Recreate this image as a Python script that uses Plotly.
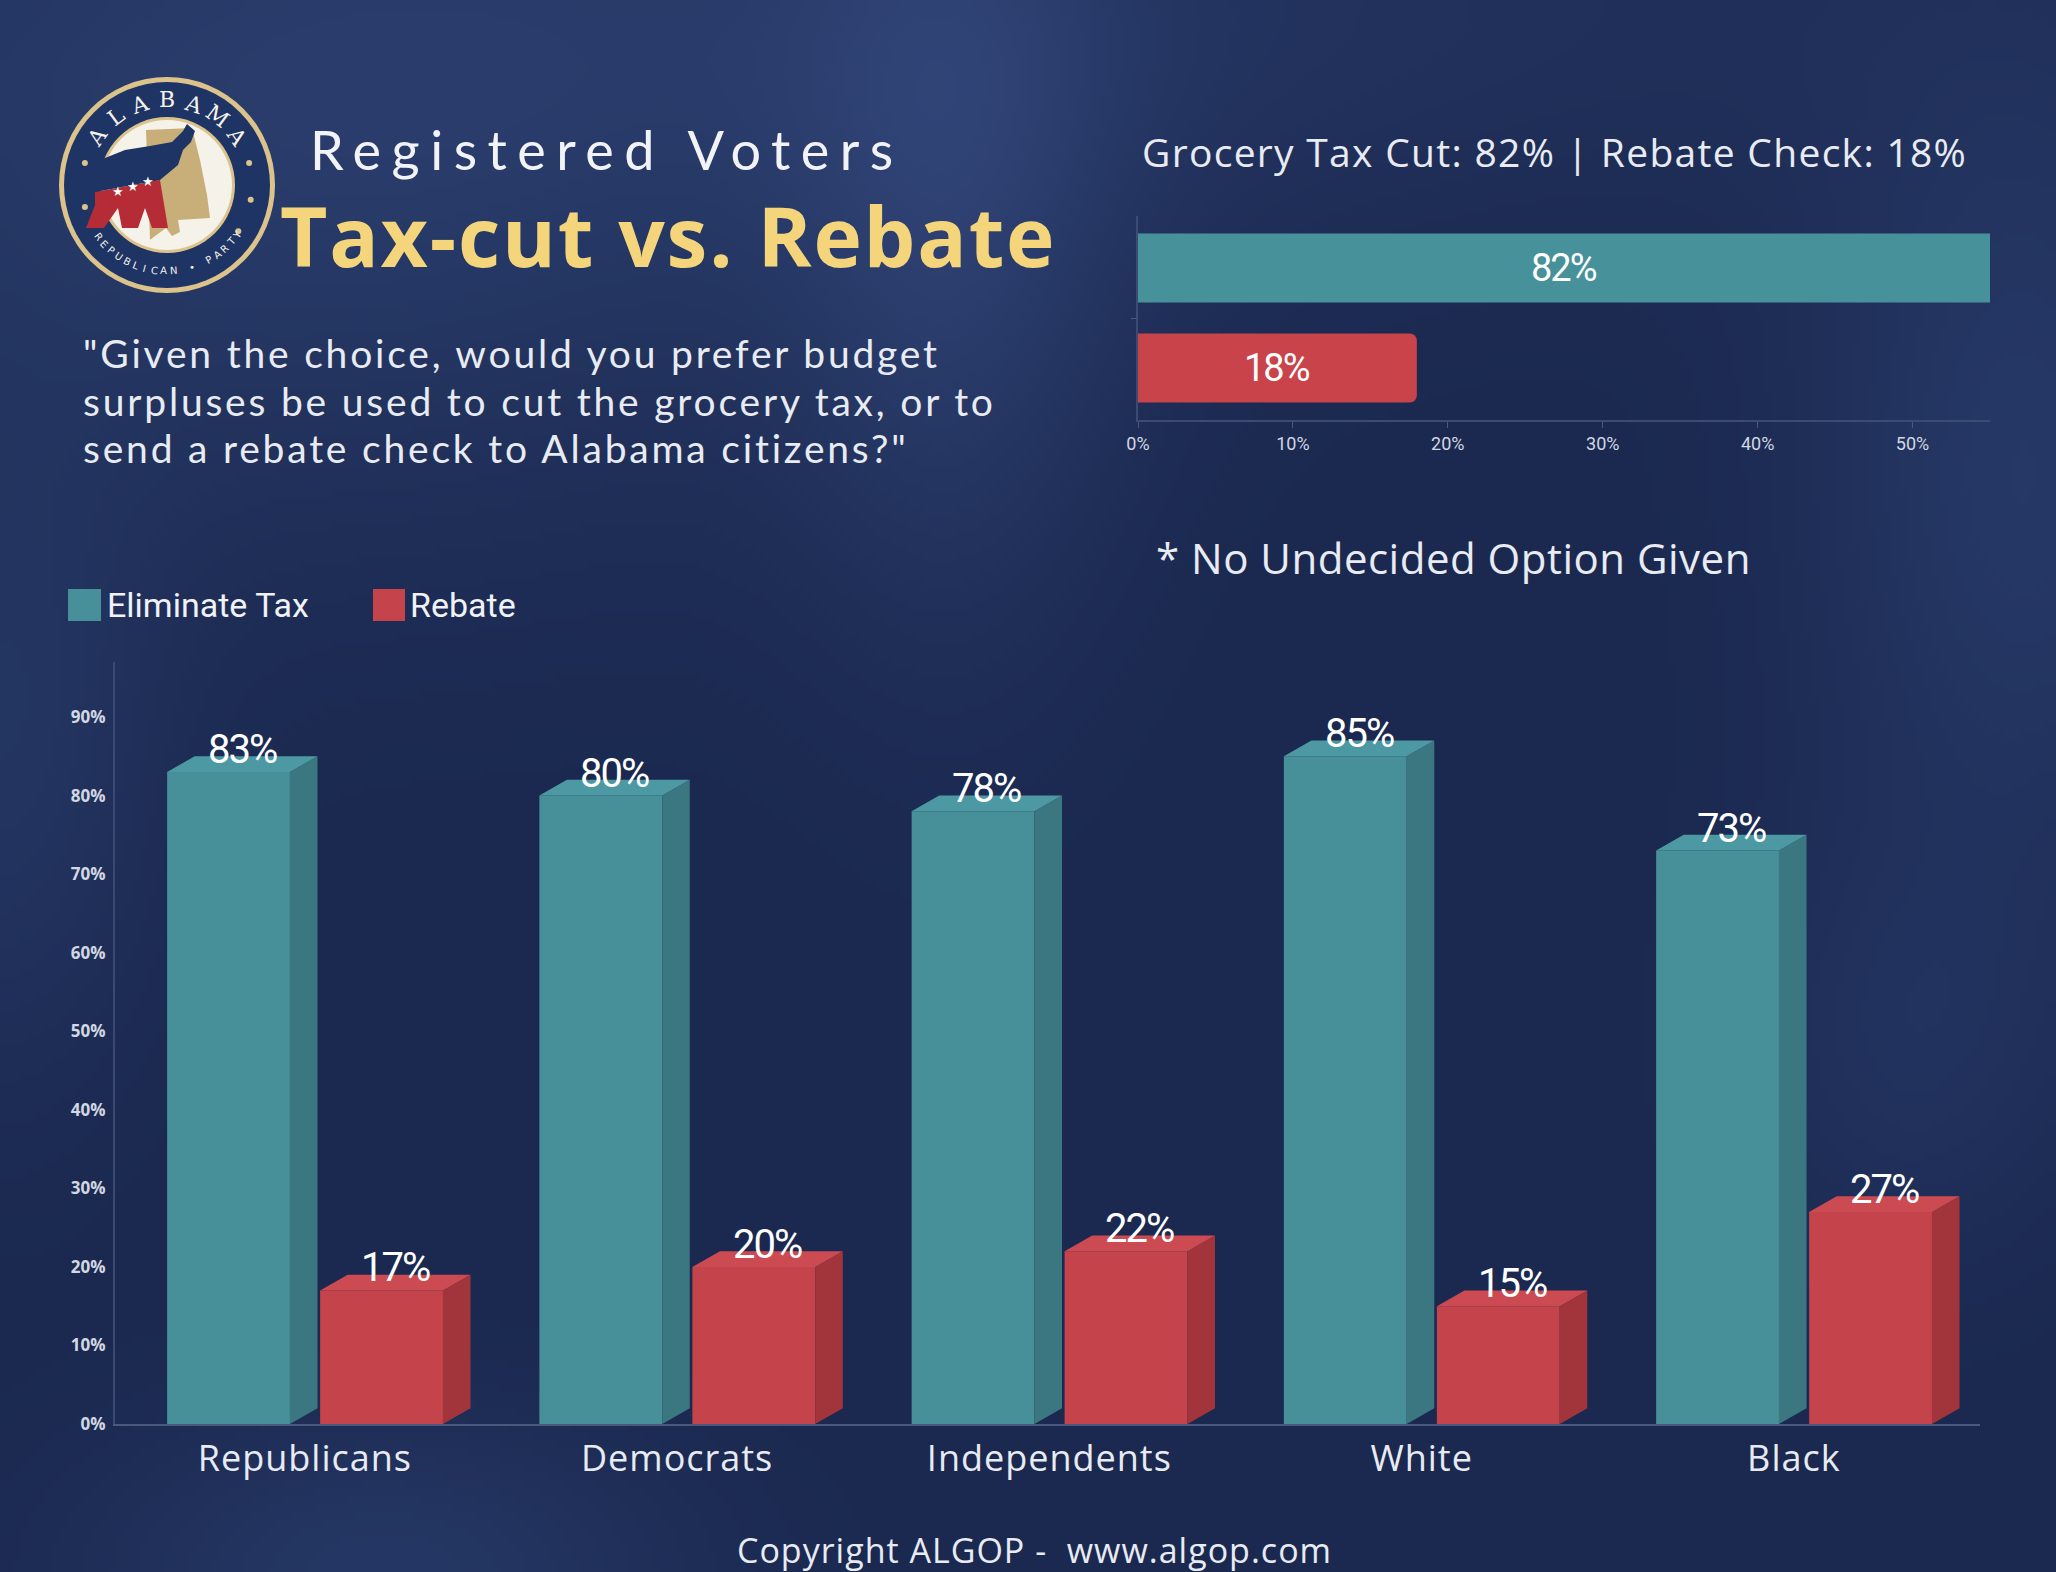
import base64
import math
import struct
import zlib

import numpy as np
import plotly.graph_objects as go

# ---------------- data ----------------
categories = ["Republicans", "Democrats", "Independents", "White", "Black"]
eliminate_tax = [83, 80, 78, 85, 73]
rebate = [17, 20, 22, 15, 27]
series_names = ["Eliminate Tax", "Rebate"]

overall_labels = ["Grocery Tax Cut", "Rebate Check"]
overall_values = [82, 18]

main_y_ticks = [0, 10, 20, 30, 40, 50, 60, 70, 80, 90]
top_x_ticks = [0, 10, 20, 30, 40, 50]

question_lines = [
    '"Given the choice, would you prefer budget',
    'surpluses be used to cut the grocery tax, or to',
    'send a rebate check to Alabama citizens?"',
]

# ---------------- styling ----------------
W, H = 2056, 1572
BG = "#1c2a50"
TEAL, TEAL_SIDE, TEAL_TOP = "#478f99", "#3a7780", "#4d99a3"
RED, RED_SIDE, RED_TOP = "#c5434a", "#a2353b", "#cc4b52"
NARROW = "Roboto, sans-serif"
MONT = "Open Sans, Noto Sans, sans-serif"

FRONT_W = 0.33
OFFS = [-0.370, 0.041]
DX, DY = 0.074, 2.0
MAIN_YMAX = 97
TOP_XMAX = 55


def px(x):
    return x / W


def py(y):
    return 1 - y / H


def spaced(text, sp):
    return f'<span style="letter-spacing:{sp}px">{text}</span>'


# ---------------- background image (soft glow) ----------------
def make_bg():
    w, h = 257, 197
    s = W / w
    yy, xx = np.mgrid[0:h, 0:w].astype(float)
    X, Y = xx * s, yy * s
    img = np.zeros((h, w, 3)) + np.array([27, 41, 80], float)
    blobs = [
        (300, 160, 650, 380, (11, 15, 21)),
        (950, 200, 170, 420, (12, 15, 21)),
        (1000, 0, 1100, 240, (7, 9, 13)),
        (2020, 480, 220, 420, (11, 15, 22)),
        (1900, 1050, 180, 220, (6, 8, 12)),
        (380, 1572, 300, 160, (10, 14, 20)),
        (0, 760, 160, 320, (8, 11, 16)),
    ]
    for cx, cy, sx, sy, col in blobs:
        g = np.exp(-(((X - cx) / sx) ** 2 + ((Y - cy) / sy) ** 2))
        img += g[..., None] * np.array(col, float)
    arr = np.clip(img, 0, 255).astype(np.uint8)
    raw = b"".join(b"\x00" + arr[i].tobytes() for i in range(h))

    def chunk(t, d):
        return struct.pack(">I", len(d)) + t + d + struct.pack(">I", zlib.crc32(t + d) & 0xFFFFFFFF)

    png = (b"\x89PNG\r\n\x1a\n" + chunk(b"IHDR", struct.pack(">IIBBBBB", w, h, 8, 2, 0, 0, 0))
           + chunk(b"IDAT", zlib.compress(raw, 9)) + chunk(b"IEND", b""))
    return "data:image/png;base64," + base64.b64encode(png).decode()


fig = go.Figure()

# ---------------- main 3D-style bar chart ----------------
series = [(eliminate_tax, TEAL, TEAL_SIDE, TEAL_TOP), (rebate, RED, RED_SIDE, RED_TOP)]
for k, (vals, front, side, top) in enumerate(series):
    off = OFFS[k]
    fig.add_trace(go.Bar(
        x=list(range(len(categories))), y=vals, width=FRONT_W, offset=off,
        marker=dict(color=front, line=dict(width=0)), name=series_names[k],
        showlegend=False, xaxis="x", yaxis="y", hoverinfo="skip"))
    sx, sy, tx, ty = [], [], [], []
    for i, v in enumerate(vals):
        xl = i + off
        xr = xl + FRONT_W
        sx += [xr, xr + DX, xr + DX, xr, xr, None]
        sy += [0, DY, v + DY, v, 0, None]
        tx += [xl, xl + DX, xr + DX, xr, xl, None]
        ty += [v, v + DY, v + DY, v, v, None]
    fig.add_trace(go.Scatter(x=sx, y=sy, fill="toself", fillcolor=side, mode="lines",
                             line=dict(width=0, color=side), showlegend=False,
                             hoverinfo="skip", xaxis="x", yaxis="y"))
    fig.add_trace(go.Scatter(x=tx, y=ty, fill="toself", fillcolor=top, mode="lines",
                             line=dict(width=0, color=top), showlegend=False,
                             hoverinfo="skip", xaxis="x", yaxis="y"))

annotations = []
for k, vals in enumerate([eliminate_tax, rebate]):
    for i, v in enumerate(vals):
        annotations.append(dict(
            x=i + OFFS[k] + (FRONT_W + DX) / 2, y=v, xref="x", yref="y",
            text=spaced(f"{v}%", -2), showarrow=False, xanchor="center", yanchor="bottom",
            yshift=-3, font=dict(family=NARROW, size=40, color="#ffffff")))

# ---------------- top horizontal bar chart ----------------
top_rows = [1, 0]
fig.add_trace(go.Bar(
    x=overall_values, y=top_rows, orientation="h", width=0.69,
    marker=dict(color=["#46919a", "#c9434b"], cornerradius=7, line=dict(width=0)),
    showlegend=False, xaxis="x2", yaxis="y2", hoverinfo="skip"))
for v, r in zip(overall_values, top_rows):
    annotations.append(dict(
        x=min(v, TOP_XMAX) / 2, y=r, xref="x2", yref="y2", text=spaced(f"{v}%", -2),
        showarrow=False, xanchor="center", yanchor="middle",
        font=dict(family=NARROW, size=38, color="#ffffff")))

# ---------------- texts ----------------
annotations += [
    dict(x=px(308), y=py(149), xref="paper", yref="paper", xanchor="left", yanchor="middle",
         text=spaced("Registered Voters", 10.5), showarrow=False,
         font=dict(family="Lato, sans-serif", size=54, color="#f2f3f6")),
    dict(x=px(278), y=py(235), xref="paper", yref="paper", xanchor="left", yanchor="middle",
         text=spaced("Tax-cut vs. Rebate", 1.8), showarrow=False,
         font=dict(family=MONT, size=82, color="#f4d57b", weight="bold")),
    dict(x=px(1140), y=py(152), xref="paper", yref="paper", xanchor="left", yanchor="middle",
         showarrow=False,
         text=spaced(f"{overall_labels[0]}: {overall_values[0]}% | {overall_labels[1]}: {overall_values[1]}%", 1.3),
         font=dict(family=MONT, size=39, color="#e8ebf1")),
    dict(x=px(1154), y=py(557), xref="paper", yref="paper", xanchor="left", yanchor="middle",
         showarrow=False, text=spaced("* No Undecided Option Given", 0.5),
         font=dict(family=MONT, size=42, color="#e8ebf1")),
    dict(x=px(1034), y=py(1550), xref="paper", yref="paper", xanchor="center", yanchor="middle",
         showarrow=False, text=spaced("Copyright ALGOP -  www.algop.com", 1),
         font=dict(family=MONT, size=34, color="#e8ebf1")),
    dict(x=px(105), y=py(605), xref="paper", yref="paper", xanchor="left", yanchor="middle",
         showarrow=False, text=series_names[0],
         font=dict(family="Roboto, sans-serif", size=34, color="#f0f2f6")),
    dict(x=px(408), y=py(605), xref="paper", yref="paper", xanchor="left", yanchor="middle",
         showarrow=False, text=series_names[1],
         font=dict(family="Roboto, sans-serif", size=34, color="#f0f2f6")),
]
for line, yy in zip(question_lines, [353, 401, 448]):
    annotations.append(dict(x=px(81), y=py(yy), xref="paper", yref="paper", xanchor="left",
                            yanchor="middle", showarrow=False, text=spaced(line, 2.8),
                            font=dict(family="Lato, sans-serif", size=39, color="#e8ebf1")))

shapes = [
    dict(type="rect", xref="paper", yref="paper", x0=px(68), x1=px(101), y0=py(621), y1=py(589),
         fillcolor=TEAL, line=dict(width=0)),
    dict(type="rect", xref="paper", yref="paper", x0=px(373), x1=px(405), y0=py(621), y1=py(589),
         fillcolor=RED, line=dict(width=0)),
]

# ---------------- logo ----------------
CX, CY = 167, 185


def circle(r, color, cx=CX, cy=CY):
    return dict(type="circle", xref="paper", yref="paper", x0=px(cx - r), x1=px(cx + r),
                y0=py(cy + r), y1=py(cy - r), fillcolor=color, line=dict(width=0), layer="above")


def path(points, color):
    d = "M " + " L ".join(f"{px(x):.5f},{py(y):.5f}" for x, y in points) + " Z"
    return dict(type="path", xref="paper", yref="paper", path=d, fillcolor=color,
                line=dict(width=0), layer="above")


GOLD = "#dcc38c"
shapes += [circle(108, GOLD), circle(103, "#1e3465"), circle(68, GOLD), circle(65, "#f5f2ea")]
for ang in [165, 195, 15, -10, -33]:
    a = math.radians(ang)
    shapes.append(circle(3, GOLD, CX + 85 * math.cos(a), CY - 85 * math.sin(a)))
shapes.append(path([(146, 130), (192, 128), (200, 160), (207, 195), (210, 218), (178, 220),
                    (180, 232), (172, 236), (166, 228), (155, 236), (150, 240)], "#c8ae79"))
shapes.append(path([(95, 192), (160, 180), (168, 228), (152, 228), (145, 208), (138, 228),
                    (122, 228), (118, 208), (104, 228), (86, 228), (95, 205)], "#b52c36"))
shapes.append(path([(187, 124), (195, 131), (191, 142), (183, 150), (178, 165), (160, 180),
                    (95, 192), (88, 176), (100, 160), (125, 150), (150, 146), (172, 142),
                    (183, 131)], "#1e3465"))
for sx_, sy_ in [(110, 180), (125, 175), (140, 170)]:
    annotations.append(dict(x=px(sx_), y=py(sy_), xref="paper", yref="paper", text="★",
                            showarrow=False, font=dict(size=13, color="#ffffff")))
word = "ALABAMA"
for j, ch in enumerate(word):
    ang = 145 - j * (110 / (len(word) - 1))
    a = math.radians(ang)
    annotations.append(dict(x=px(CX + 85 * math.cos(a)), y=py(CY - 85 * math.sin(a)),
                            xref="paper", yref="paper", text=ch, showarrow=False,
                            textangle=90 - ang, xanchor="center", yanchor="middle",
                            font=dict(family="DejaVu Serif, serif", size=22, color="#f5f2ea")))
word2 = "REPUBLICAN • PARTY"
for j, ch in enumerate(word2):
    ang = 217 + j * (108 / (len(word2) - 1))
    a = math.radians(ang)
    annotations.append(dict(x=px(CX + 86 * math.cos(a)), y=py(CY - 86 * math.sin(a)),
                            xref="paper", yref="paper", text=ch, showarrow=False,
                            textangle=270 - ang, xanchor="center", yanchor="middle",
                            font=dict(family="DejaVu Sans, sans-serif", size=10, color="#f5f2ea")))

# ---------------- layout ----------------
fig.update_layout(
    width=W, height=H, margin=dict(l=0, r=0, t=0, b=0, pad=0, autoexpand=False),
    paper_bgcolor=BG, plot_bgcolor="rgba(0,0,0,0)",
    barmode="overlay", showlegend=False,
    images=[dict(source=make_bg(), xref="paper", yref="paper", x=0, y=1, sizex=1, sizey=1,
                 xanchor="left", yanchor="top", sizing="stretch", layer="below")],
    xaxis=dict(domain=[px(115), px(1980)], range=[-0.51, 4.5], anchor="y", automargin=False,
               tickvals=list(range(len(categories))),
               ticktext=[spaced(c, 1) for c in categories],
               tickfont=dict(family=MONT, size=36, color="#e8ebf1"),
               ticks="outside", ticklen=2, tickcolor="rgba(0,0,0,0)",
               showline=True, linecolor="#4a587c", linewidth=2,
               showgrid=False, zeroline=False, fixedrange=True),
    yaxis=dict(domain=[py(1424), py(662)], range=[0, MAIN_YMAX], anchor="x", automargin=False,
               tickvals=main_y_ticks, ticktext=[f"{t}%" for t in main_y_ticks],
               tickfont=dict(family="Open Sans, sans-serif", size=17, color="#d3d7e2", weight="bold"),
               ticks="outside", ticklen=4, tickcolor="rgba(0,0,0,0)",
               showline=True, linecolor="#3b4970", linewidth=2,
               showgrid=False, zeroline=False, fixedrange=True),
    xaxis2=dict(domain=[px(1138), px(1990)], range=[0, TOP_XMAX], anchor="y2", automargin=False,
                tickvals=top_x_ticks, ticktext=[f"{t}%" for t in top_x_ticks],
                tickfont=dict(family=NARROW, size=18, color="#d3d7e2"),
                ticks="outside", ticklen=6, tickcolor="#4a587c",
                showline=True, linecolor="#3d4b72", linewidth=2,
                showgrid=False, zeroline=False, fixedrange=True),
    yaxis2=dict(domain=[py(420), py(216)], range=[-0.52, 1.52], anchor="x2", automargin=False,
                tickvals=[0.5], ticktext=[""], ticks="outside", ticklen=5, tickcolor="#4a587c",
                showline=True, linecolor="#3d4b72", linewidth=2,
                showgrid=False, zeroline=False, fixedrange=True),
    annotations=annotations, shapes=shapes,
)

fig.write_html("out.html", config={"displayModeBar": False, "responsive": False})

# remove the browser's default page margin so the figure fills the window exactly
with open("out.html", "r", encoding="utf-8") as f:
    html = f.read()
html = html.replace(
    "<body>",
    f'<body style="margin:0;padding:0;overflow:hidden;background:{BG};">', 1)
with open("out.html", "w", encoding="utf-8") as f:
    f.write(html)
